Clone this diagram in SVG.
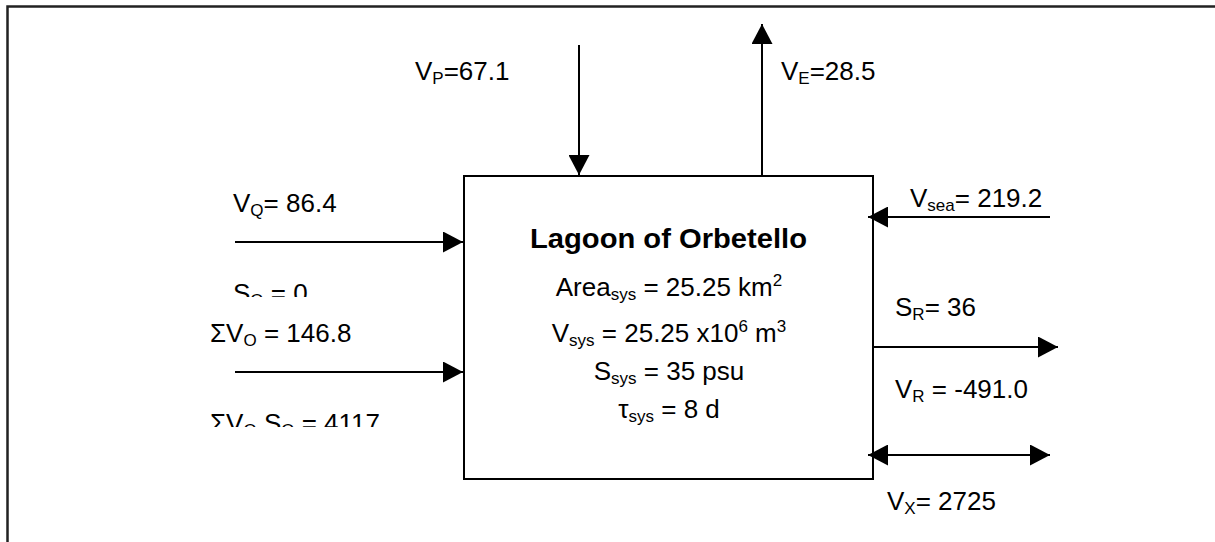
<svg xmlns="http://www.w3.org/2000/svg" width="1215" height="542" viewBox="0 0 1215 542">
<style>
text{font-family:"Liberation Sans",Arial,sans-serif;font-size:26px;fill:#000}
.b{font-weight:bold;font-size:28px}
.s{font-size:17px}
.ln{stroke:#000;stroke-width:2;fill:none}
</style>
<defs>
<marker id="ah" viewBox="0 0 20 20" refX="20" refY="10" markerWidth="20" markerHeight="21" markerUnits="userSpaceOnUse" orient="auto-start-reverse" preserveAspectRatio="none">
<path d="M0,0 L20,10 L0,20 Z" fill="#000"/>
</marker>
<clipPath id="c1"><rect x="200" y="270" width="200" height="27"/></clipPath>
<clipPath id="c2"><rect x="200" y="400" width="220" height="27"/></clipPath>
</defs>
<rect width="1215" height="542" fill="#fff"/>
<path d="M7.5,542 V6.5 H1215" fill="none" stroke="#222" stroke-width="2.5"/>
<g id="lagoon">
<rect x="464" y="176" width="409" height="303" fill="#fff" stroke="#000" stroke-width="2"/>
<text class="b" x="668.5" y="248" text-anchor="middle" textLength="277" lengthAdjust="spacingAndGlyphs">Lagoon of Orbetello</text>
<text x="669" y="296" text-anchor="middle">Area<tspan class="s" dy="4">sys</tspan><tspan dy="-4"> = 25.25 km</tspan><tspan class="s" dy="-10">2</tspan></text>
<text x="669" y="342" text-anchor="middle">V<tspan class="s" dy="4">sys</tspan><tspan dy="-4"> = 25.25 x10</tspan><tspan class="s" dy="-10">6</tspan><tspan dy="10"> m</tspan><tspan class="s" dy="-10">3</tspan></text>
<text x="669" y="380" text-anchor="middle">S<tspan class="s" dy="4">sys</tspan><tspan dy="-4"> = 35 psu</tspan></text>
<text x="669" y="418" text-anchor="middle">τ<tspan class="s" dy="4">sys</tspan><tspan dy="-4"> = 8 d</tspan></text>
</g>
<g id="connectors">
<line class="ln" x1="579" y1="45" x2="579" y2="175" marker-end="url(#ah)"/>
<line class="ln" x1="762" y1="176" x2="762" y2="24" marker-end="url(#ah)"/>
<line class="ln" x1="235" y1="242" x2="463" y2="242" marker-end="url(#ah)"/>
<line class="ln" x1="235" y1="372" x2="463" y2="372" marker-end="url(#ah)"/>
<line class="ln" x1="1050" y1="217" x2="868" y2="217" marker-end="url(#ah)"/>
<line class="ln" x1="874" y1="347" x2="1058" y2="347" marker-end="url(#ah)"/>
<line class="ln" x1="868" y1="455" x2="1050" y2="455" marker-start="url(#ah)" marker-end="url(#ah)"/>
</g>
<g id="labels">
<text x="415" y="80">V<tspan class="s" dy="4">P</tspan><tspan dy="-4">=67.1</tspan></text>
<text x="781" y="80">V<tspan class="s" dy="4">E</tspan><tspan dy="-4">=28.5</tspan></text>
<text x="233" y="212">V<tspan class="s" dy="4">Q</tspan><tspan dy="-4">= 86.4</tspan></text>
<text x="233" y="302" clip-path="url(#c1)">S<tspan class="s" dy="4">O</tspan><tspan dy="-4"> = 0</tspan></text>
<text x="210" y="342">ΣV<tspan class="s" dy="4">O</tspan><tspan dy="-4"> = 146.8</tspan></text>
<text x="210" y="432" clip-path="url(#c2)">ΣV<tspan class="s" dy="4">O</tspan><tspan dy="-4"> S</tspan><tspan class="s" dy="4">O</tspan><tspan dy="-4"> = 4117</tspan></text>
<text x="910" y="207">V<tspan class="s" dy="4">sea</tspan><tspan dy="-4">= 219.2</tspan></text>
<text x="895" y="316">S<tspan class="s" dy="4">R</tspan><tspan dy="-4">= 36</tspan></text>
<text x="895" y="398">V<tspan class="s" dy="4">R</tspan><tspan dy="-4"> = -491.0</tspan></text>
<text x="887" y="510">V<tspan class="s" dy="4">X</tspan><tspan dy="-4">= 2725</tspan></text>
</g>
</svg>
